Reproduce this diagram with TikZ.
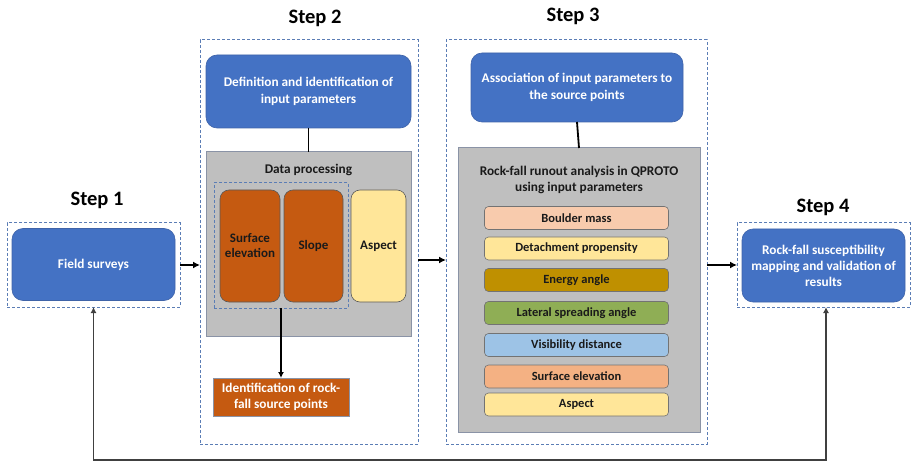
\documentclass[tikz,border=0pt]{standalone}
\usepackage{fontspec}
\setmainfont{Carlito}
\usetikzlibrary{arrows.meta}
\definecolor{bl}{HTML}{4472C4}
\definecolor{blb}{HTML}{3F63A8}
\definecolor{dsh}{HTML}{5B7DB5}
\definecolor{org}{HTML}{C55A11}
\definecolor{yel}{HTML}{FFE699}
\definecolor{gry}{HTML}{BFBFBF}
\definecolor{gryb}{HTML}{8A93A6}
\definecolor{pbm}{HTML}{F8CBAD}
\definecolor{pea}{HTML}{BF9000}
\definecolor{pls}{HTML}{8FAE55}
\definecolor{pvd}{HTML}{9DC3E6}
\definecolor{pse}{HTML}{F4B183}
\definecolor{txt}{HTML}{1A1A1A}
\tikzset{
  dbox/.style={draw=dsh, dash pattern=on 3pt off 2pt, line width=1pt, inner sep=0pt, outer sep=0pt},
  bluebox/.style={fill=bl, draw=blb, line width=0.6pt, rounded corners=11pt, text=white, font=\bfseries\fontsize{13.3}{17}\selectfont, align=center, inner sep=0pt, outer sep=0pt},
  graybox/.style={fill=gry, draw=gryb, line width=1pt, inner sep=0pt, outer sep=0pt},
  colbox/.style={draw=black!65, line width=0.6pt, rounded corners=9pt, text=txt, font=\bfseries\fontsize{13}{15}\selectfont, align=center, inner sep=0pt, outer sep=0pt},
  parbox/.style={draw=black!55, line width=0.6pt, rounded corners=4pt, text=txt, font=\bfseries\fontsize{12.5}{14}\selectfont, minimum width=184pt, minimum height=23pt, inner sep=0pt, outer sep=0pt},
  steptitle/.style={font=\bfseries\fontsize{20.5}{24}\selectfont, text=black},
  lbl/.style={text=txt, font=\bfseries\fontsize{13.3}{16}\selectfont, align=center},
  arr/.style={line width=2pt, -{Latex[length=7pt,width=7pt]}},
  thinarr/.style={line width=1.3pt, -{Latex[length=6pt,width=6pt]}},
  conn/.style={line width=1.8pt},
}
\begin{document}
\begin{tikzpicture}[x=1pt,y=-1pt]
\useasboundingbox (0,0) rectangle (912,462);
% titles
\node[steptitle] (t1) at (97,200) {Step 1};
\node[steptitle] (t2) at (315,18) {Step 2};
\node[steptitle] (t3) at (573,16) {Step 3};
\node[steptitle] (t4) at (823,207) {Step 4};
% step 1
\node[dbox, minimum width=173pt, minimum height=84pt] (s1box) at (93.5,265) {};
\node[bluebox, minimum width=163pt, minimum height=72pt] (s1) at (93.5,264.5) {Field surveys};
% step 2
\node[dbox, minimum width=218pt, minimum height=404pt] (s2box) at (309,242) {};
\node[bluebox, minimum width=205pt, minimum height=73pt] (def) at (308.5,91.5) {Definition and identification of\\input parameters};
\node[graybox, minimum width=205pt, minimum height=184pt] (dp) at (308.5,244) {};
\node[lbl] (dpt) at (308.5,170) {Data processing};
\node[dbox, minimum width=134pt, minimum height=125pt] (inner) at (281,245.5) {};
\node[colbox, fill=org, minimum width=60pt, minimum height=112pt] (se) at (250,246) {Surface\\elevation};
\node[colbox, fill=org, minimum width=59pt, minimum height=112pt] (sl) at (313.5,246) {Slope};
\node[colbox, fill=yel, minimum width=55pt, minimum height=112pt] (asp) at (378.5,246) {Aspect};
\node[fill=org, draw=gryb, line width=0.6pt, minimum width=136pt, minimum height=38pt, text=white, font=\bfseries\fontsize{13.3}{15.5}\selectfont, align=center, inner sep=0pt, outer sep=0pt] (ident) at (281,397) {Identification of rock-\\fall source points};
% step 3
\node[dbox, minimum width=261pt, minimum height=404pt] (s3box) at (576.5,242) {};
\node[bluebox, minimum width=212pt, minimum height=69pt] (assoc) at (577,87.5) {Association of input parameters to\\the source points};
\node[graybox, minimum width=242pt, minimum height=284pt] (ra) at (579,290) {};
\node[lbl] (rat) at (579,180) {Rock-fall runout analysis in QPROTO\\using input parameters};
\node[parbox, fill=pbm] (p1) at (576.5,218) {Boulder mass};
\node[parbox, fill=yel] (p2) at (576.5,248.5) {Detachment propensity};
\node[parbox, fill=pea] (p3) at (576.5,280) {Energy angle};
\node[parbox, fill=pls] (p4) at (576.5,313) {Lateral spreading angle};
\node[parbox, fill=pvd] (p5) at (576.5,345) {Visibility distance};
\node[parbox, fill=pse] (p6) at (576.5,376.5) {Surface elevation};
\node[parbox, fill=yel] (p7) at (576.5,404.5) {Aspect};
% step 4
\node[dbox, minimum width=173pt, minimum height=84pt] (s4box) at (823.5,265) {};
\node[bluebox, minimum width=163pt, minimum height=73pt, font=\bfseries\fontsize{13.3}{16}\selectfont] (s4) at (823.5,265.5) {Rock-fall susceptibility\\mapping and validation of\\results};
% connectors
\draw[arr] (s1box.east) -- (s1box.east -| s2box.west);
\draw[arr] ([yshift=-18pt]s2box.east) -- ([yshift=-18pt]s2box.east -| s3box.west);
\draw[arr] (s4box.west -| s3box.east) -- (s4box.west);
\draw[conn] (def.south) -- (dp.north);
\draw[conn] (assoc.south) -- (ra.north);
\draw[thinarr] (inner.south) -- (ident.north);
\coordinate (bot) at (460,460);
\draw[line width=1.3pt, black!75, {Latex[length=6pt,width=6pt]}-{Latex[length=6pt,width=6pt]}] (s1box.south) |- (bot) -| ([xshift=2.5pt]s4box.south);
\end{tikzpicture}
\end{document}
